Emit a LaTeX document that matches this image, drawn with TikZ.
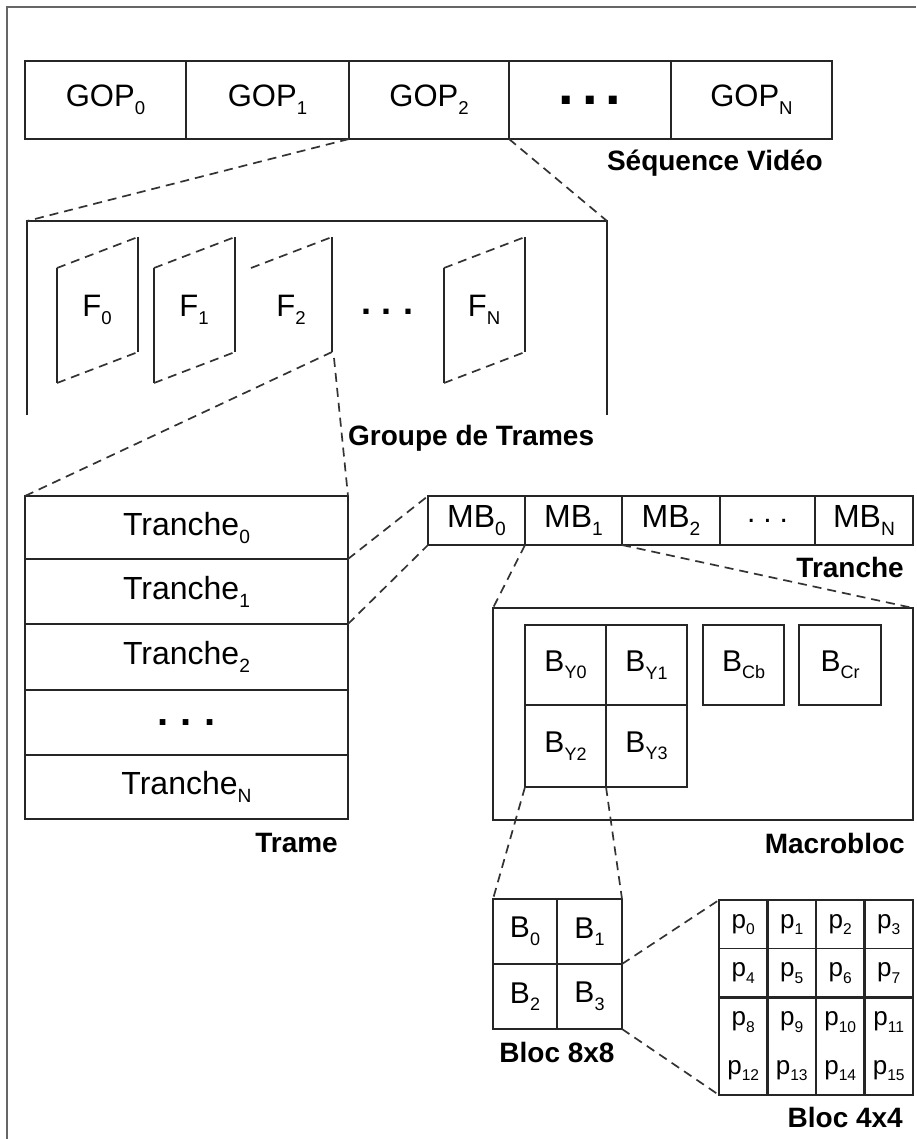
\documentclass[tikz,border=0pt]{standalone}
\usepackage{fontspec}
\usepackage{graphicx}
\setmainfont{Liberation Sans}
\usepackage{tikz}
\usetikzlibrary{positioning,calc}
\newcommand{\sub}[1]{\raisebox{-0.25em}{\scalebox{0.6}{#1}}}
\newcommand{\cellfont}{\fontsize{31}{36}\selectfont}
\newcommand{\blocfont}{\fontsize{30}{34}\selectfont}
\newcommand{\pixfont}{\fontsize{26}{30}\selectfont}
\newcommand{\levelfont}{\fontsize{28}{32}\selectfont\bfseries}
\newcommand{\rowdots}[2]{\fontsize{#1}{#1}\selectfont.\hspace{#2}.\hspace{#2}.}

\tikzset{
  cell/.style={draw=black!85, line width=2.2pt, inner sep=0pt, outer sep=0pt, anchor=north west},
  edge/.style={black!85, line width=2.2pt},
  zoomline/.style={black!80, line width=1.7pt, dash pattern=on 9pt off 6pt},
  level/.style={font=\levelfont, inner sep=0pt},
}

\begin{document}
\begin{tikzpicture}[x=1pt, y=-1pt]
    \useasboundingbox (0,0) rectangle (916,1139);
    \draw[black!60, line width=1.5pt] (7,1139) -- (7,7) -- (916,7);

    % Step 1: Video sequence
    \begin{scope}[every node/.append style={font=\cellfont}]
        \node[cell, minimum width=161, minimum height=78] (gop0) at (25,61) {GOP\sub{0}};
        \node[cell, minimum width=163, minimum height=78] (gop1) at (186,61) {GOP\sub{1}};
        \node[cell, minimum width=160, minimum height=78] (gop2) at (349,61) {GOP\sub{2}};
        \node[cell, minimum width=162, minimum height=78] (gop3) at (509,61) {\bfseries\rowdots{56}{8pt}};
        \node[cell, minimum width=161, minimum height=78] (gopN) at (671,61) {GOP\sub{N}};
    \end{scope}
    \node[level, anchor=east] (seqlbl) at (823,163) {Séquence Vidéo};

    % Step 2: Group of frames
    \node[inner sep=0pt, outer sep=0pt, anchor=north west, minimum width=580, minimum height=194] (grp) at (27,221) {};
    \draw[edge] (grp.south west) -- (grp.north west) -- (grp.north east) -- (grp.south east);
    \foreach \xl/\idx in {57/0, 154/1, 444/N} {
        \draw[edge] (\xl,268) -- (\xl,383);
        \draw[edge] (\xl+81,237) -- (\xl+81,352);
        \draw[zoomline] (\xl,268) -- (\xl+81,237);
        \draw[zoomline] (\xl,383) -- (\xl+81,352);
        \node[font=\cellfont] (f\idx) at (\xl+40,310) {F\sub{\idx}};
    }
    \draw[zoomline] (251,268) -- (332,237);
    \draw[edge] (332,237) -- (332,352);
    \node[font=\cellfont] (f2) at (291,310) {F\sub{2}};
    \node[font=\cellfont] (fdots) at (387,312) {\bfseries\rowdots{36}{11pt}};
    \coordinate (f2c) at (332,352);
    \coordinate (f2d) at (334,358);
    \node[level, anchor=west] (grplbl) at (348,438) {Groupe de Trames};

    % Zoom 1
    \draw[zoomline] (gop2.south west) -- (grp.north west);
    \draw[zoomline] (gop3.south west) -- (grp.north east);

    % Step 3: Frame
    \begin{scope}[every node/.append style={font=\fontsize{32}{36}\selectfont}]
        \node[cell, minimum width=323, minimum height=63] (tr0) at (25,496) {Tranche\sub{0}};
        \node[cell, minimum width=323, minimum height=65] (tr1) at (25,559) {Tranche\sub{1}};
        \node[cell, minimum width=323, minimum height=66] (tr2) at (25,624) {Tranche\sub{2}};
        \node[cell, minimum width=323, minimum height=65] (tr3) at (25,690) {\bfseries\rowdots{40}{12pt}};
        \node[cell, minimum width=323, minimum height=64] (trN) at (25,755) {Tranche\sub{N}};
    \end{scope}
    \node[level, anchor=east] (tramelbl) at (338,843) {Trame};

    % Zoom 2
    \draw[zoomline] (f2c) -- (tr0.north west);
    \draw[zoomline] (f2d) -- (tr0.north east);

    % Step 4: Slice
    \begin{scope}[every node/.append style={font=\fontsize{32}{36}\selectfont}]
        \node[cell, minimum width=97, minimum height=49] (mb0) at (428,496) {MB\sub{0}};
        \node[cell, minimum width=97, minimum height=49] (mb1) at (525,496) {MB\sub{1}};
        \node[cell, minimum width=98, minimum height=49] (mb2) at (622,496) {MB\sub{2}};
        \node[cell, minimum width=95, minimum height=49] (mb3) at (720,496) {\rowdots{30}{8pt}};
        \node[cell, minimum width=98, minimum height=49] (mbN) at (815,496) {MB\sub{N}};
    \end{scope}
    \node[level, anchor=east] (tranchelbl) at (904,567) {Tranche};

    % Zoom 3
    \draw[zoomline] (tr0.south east) -- (mb0.north west);
    \draw[zoomline] (tr1.south east) -- (mb0.south west);

    % Step 5: Macroblock
    \node[cell, minimum width=420, minimum height=212] (mac) at (493,608) {};
    \begin{scope}[every node/.append style={font=\blocfont}]
        \node[cell, minimum width=81, minimum height=80] (by0) at (525,625) {B\sub{Y0}};
        \node[cell, minimum width=81, minimum height=80] (by1) at (606,625) {B\sub{Y1}};
        \node[cell, minimum width=81, minimum height=82] (by2) at (525,705) {B\sub{Y2}};
        \node[cell, minimum width=81, minimum height=82] (by3) at (606,705) {B\sub{Y3}};
        \node[cell, minimum width=81, minimum height=80] (bcb) at (703,625) {B\sub{Cb}};
        \node[cell, minimum width=82, minimum height=80] (bcr) at (799,625) {B\sub{Cr}};
    \end{scope}
    \node[level, anchor=east] (maclbl) at (905,843) {Macrobloc};

    % Zoom 4
    \draw[zoomline] (mb1.south west) -- (mac.north west);
    \draw[zoomline] (mb1.south east) -- (mac.north east);

    % Step 6: 8x8 block
    \begin{scope}[every node/.append style={font=\blocfont}]
        \node[cell, minimum width=64, minimum height=65] (b0) at (493,899) {B\sub{0}};
        \node[cell, minimum width=65, minimum height=65] (b1) at (557,899) {B\sub{1}};
        \node[cell, minimum width=64, minimum height=65] (b2) at (493,964) {B\sub{2}};
        \node[cell, minimum width=65, minimum height=65] (b3) at (557,964) {B\sub{3}};
    \end{scope}
    \node[level] (b8lbl) at (557,1052) {Bloc 8x8};

    % Zoom 5
    \draw[zoomline] (by2.south west) -- (b0.north west);
    \draw[zoomline] (by2.south east) -- (b1.north east);

    % Step 7: 4x4 block
    \foreach \r in {0,...,3} {
        \foreach \c in {0,...,3} {
            \pgfmathtruncatemacro{\n}{4*\r+\c}
            \node[inner sep=0pt, outer sep=0pt, anchor=north west, minimum width=48.5, minimum height=48.75, font=\pixfont]
                (p\n) at (719+48.5*\c, 900+48.75*\r) {p\sub{\n}};
        }
    }
    \draw[edge] (p0.north west) rectangle (p15.south east);
    \foreach \c in {1,2,3} {
        \pgfmathtruncatemacro{\e}{12+\c}
        \draw[edge] (p\c.north west) -- (p\e.south west);
    }
    \draw[edge, line width=1.3pt] (p4.north west) -- (p7.north east);
    \draw[edge] (p8.north west) -- (p11.north east);
    \node[level, anchor=east] (b4lbl) at (903,1117) {Bloc 4x4};

    % Zoom 6
    \draw[zoomline] (b1.south east) -- (p0.north west);
    \draw[zoomline] (b3.south east) -- (p12.south west);
\end{tikzpicture}
\end{document}
